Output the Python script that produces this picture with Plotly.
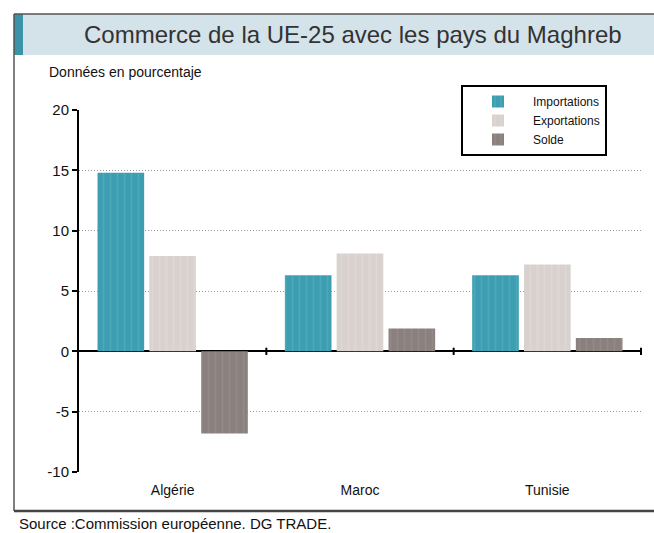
import plotly.graph_objects as go

# ---- data ----
categories = ["Algérie", "Maroc", "Tunisie"]
importations = [14.8, 6.3, 6.3]
exportations = [7.9, 8.1, 7.2]
solde = [-6.8, 1.9, 1.1]
series_names = ["Importations", "Exportations", "Solde"]
y_tick_values = [-10, -5, 0, 5, 10, 15, 20]
y_tick_labels = ["-10", "-5", "0", "5", "10", "15", "20"]

title_text = "Commerce de la UE-25 avec les pays du Maghreb"
subtitle_text = "Données en pourcentaje"
source_text = "Source :Commission européenne. DG TRADE."

# ---- layout geometry (pixels) ----
W, H = 654, 533
L, R, T, B = 79, 642, 110, 472
FONT = "Liberation Sans, Arial, sans-serif"


def px_x(x):
    return (x - L) / (R - L)


def px_y(y):
    return (B - y) / (B - T)


colors = ["#3d9db1", "#d8d1ce", "#8a807e"]
stripe = ["#5bb4c6", "#e6dedb", "#9c9190"]

fig = go.Figure()
for name, vals, c, s in zip(series_names, [importations, exportations, solde], colors, stripe):
    fig.add_trace(go.Bar(
        x=categories, y=vals, name=name,
        marker=dict(color=c, line=dict(width=0),
                    pattern=dict(shape="|", bgcolor=c, fgcolor=s, size=7, solidity=0.25)),
    ))

shapes = []
# title bar
shapes.append(dict(type="rect", xref="paper", yref="paper", x0=px_x(14), x1=px_x(654),
                   y0=px_y(55), y1=px_y(14), fillcolor="#d4e2e9", line=dict(width=0), layer="below"))
shapes.append(dict(type="rect", xref="paper", yref="paper", x0=px_x(14), x1=px_x(23),
                   y0=px_y(55), y1=px_y(14), fillcolor="#3a93a6", line=dict(width=0), layer="below"))
# frame
shapes.append(dict(type="line", xref="paper", yref="paper", x0=px_x(14), x1=px_x(654),
                   y0=px_y(14), y1=px_y(14), line=dict(color="#555", width=1.5)))
shapes.append(dict(type="line", xref="paper", yref="paper", x0=px_x(14), x1=px_x(14),
                   y0=px_y(14), y1=px_y(511), line=dict(color="#555", width=1.5)))
shapes.append(dict(type="line", xref="paper", yref="paper", x0=px_x(14), x1=px_x(654),
                   y0=px_y(511), y1=px_y(511), line=dict(color="#444", width=2.5)))
# category boundary ticks on zero line
for i in range(len(categories)):
    shapes.append(dict(type="line", xref="x", yref="y", x0=i + 0.5, x1=i + 0.5,
                       y0=-0.3, y1=0.3, line=dict(color="black", width=2)))

annotations = [
    dict(text=title_text, xref="paper", yref="paper", x=px_x(353), y=px_y(34),
         showarrow=False, font=dict(family=FONT, size=24, color="#333"),
         xanchor="center", yanchor="middle"),
    dict(text=subtitle_text, xref="paper", yref="paper", x=px_x(47), y=px_y(72),
         showarrow=False, font=dict(family=FONT, size=14, color="#111"),
         xanchor="left", yanchor="middle"),
    dict(text=source_text, xref="paper", yref="paper", x=px_x(17), y=px_y(523),
         showarrow=False, font=dict(family=FONT, size=15, color="#111"),
         xanchor="left", yanchor="middle"),
]

fig.update_layout(
    width=W, height=H,
    margin=dict(l=L, r=W - R, t=T, b=H - B, pad=0),
    paper_bgcolor="white", plot_bgcolor="white",
    barmode="group", bargap=0.17, bargroupgap=0.1,
    font=dict(family=FONT, size=13, color="#111"),
    showlegend=True,
    legend=dict(x=px_x(461), y=px_y(85), xanchor="left", yanchor="top",
                bgcolor="white", bordercolor="black", borderwidth=2,
                font=dict(family=FONT, size=12, color="#111"),
                itemwidth=60, tracegroupgap=0),
    shapes=shapes, annotations=annotations,
    xaxis=dict(showgrid=False, showline=False, ticks="", ticklabelstandoff=8,
               tickfont=dict(family=FONT, size=14, color="#111")),
    yaxis=dict(range=[-10, 20], tickvals=y_tick_values, ticktext=y_tick_labels, showgrid=True,
               gridcolor="#999", griddash="1px,2px", gridwidth=1,
               showline=True, linecolor="black", linewidth=2,
               ticks="outside", ticklen=5, tickwidth=2, tickcolor="black",
               zeroline=True, zerolinecolor="black", zerolinewidth=2,
               tickfont=dict(family=FONT, size=15, color="#111")),
)

fig.write_html("out.html")
